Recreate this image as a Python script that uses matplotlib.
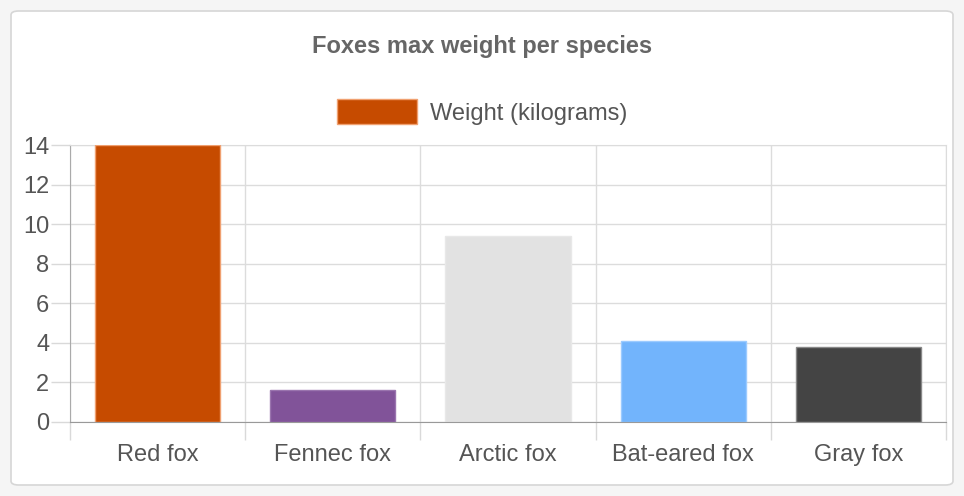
import numpy as np
import matplotlib.pyplot as plt
from matplotlib.patches import FancyBboxPatch, Patch

especes = ["Red fox", "Fennec fox", "Arctic fox", "Bat-eared fox", "Gray fox"]
poids = [14, 1.6, 9.4, 4.1, 3.8]
couleurs = ["#c64b00", "#815399", "#e2e2e2", "#72b4fc", "#444444"]
bords = ["#f0a070", "#9a74ae", "#e8e8e8", "#9ccbff", "#888888"]
yticks = [0, 2, 4, 6, 8, 10, 12, 14]

plt.rcParams['font.family'] = ['Liberation Sans', 'DejaVu Sans']

fig = plt.figure(figsize=(9.64, 4.96), dpi=100)
fig.patch.set_facecolor("#f5f5f5")

# carte blanche arrondie
carte = FancyBboxPatch((11/964, 1 - 485/496), 942/964, 474/496,
                       boxstyle="round,pad=0,rounding_size=0.008",
                       transform=fig.transFigure, facecolor="white",
                       edgecolor="#d6d6d6", linewidth=1.2, zorder=-5)
fig.patches.append(carte)

ax = fig.add_axes([70/964, 1 - 422/496, 876/964, 277/496])
ax.set_zorder(2)
ax.set_facecolor("white")

x = np.arange(len(especes))
ax.bar(x, poids, width=0.715, color=couleurs, edgecolor=bords, linewidth=1, zorder=3)

ax.set_xlim(-0.5, len(especes) - 0.5)
ax.set_ylim(0, 14)
ax.set_yticks(yticks)
ax.set_xticks(x)
ax.set_xticklabels(especes)
ax.set_xticks(np.arange(-0.5, len(especes)), minor=True)

ax.tick_params(axis="x", which="major", length=0, pad=16, labelsize=17, labelcolor="#555555")
ax.tick_params(axis="x", which="minor", length=13, color="#d9d9d9", width=1)
ax.tick_params(axis="y", length=14, color="#d9d9d9", width=1, pad=1, labelsize=17, labelcolor="#555555")

ax.grid(axis="y", color="#dcdcdc", linewidth=1, zorder=0)
ax.grid(axis="x", which="minor", color="#dcdcdc", linewidth=1, zorder=0)

for s in ["top", "right"]:
    ax.spines[s].set_color("#dcdcdc")
ax.spines["left"].set_color("#aaaaaa")
ax.spines["bottom"].set_color("#999999")
ax.spines["bottom"].set_zorder(4)

fig.text(482/964, 1 - 46/496, "Foxes max weight per species", ha="center", va="center",
         fontsize=17, fontweight="bold", color="#666666")

handle = Patch(facecolor=couleurs[0], edgecolor=bords[0], linewidth=1)
leg = fig.legend([handle], ["Weight (kilograms)"], loc="center", bbox_to_anchor=(482/964, 1 - 112/496),
                 frameon=False, fontsize=17, handlelength=3.4, handleheight=1.2, handletextpad=0.55,
                 labelcolor="#555555")

fig.savefig("out.png", dpi=100, facecolor=fig.get_facecolor())
